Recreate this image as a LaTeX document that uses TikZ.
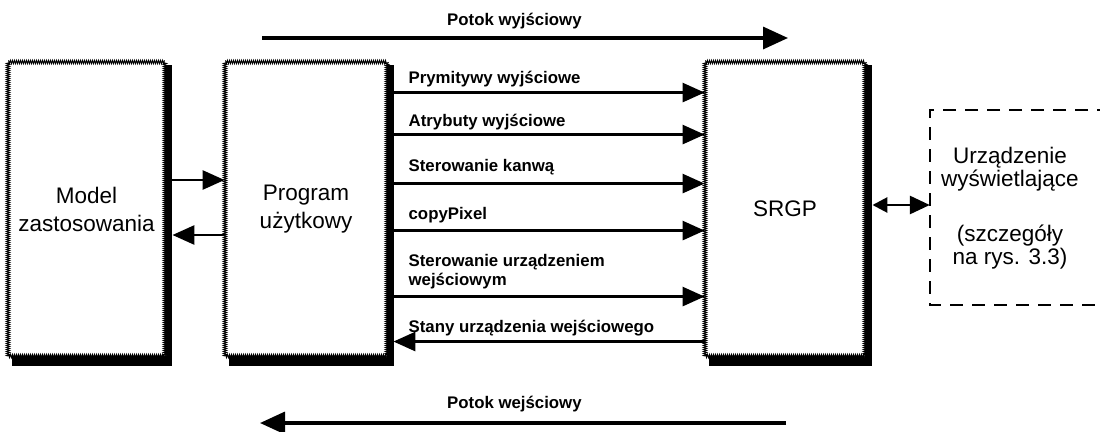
\documentclass[tikz,border=0pt]{standalone}
\usepackage{fontspec}
\setmainfont{Liberation Sans}
\usetikzlibrary{arrows.meta,decorations.pathmorphing,calc,backgrounds}

\begin{document}
\begin{tikzpicture}[x=1pt,y=-1pt,
  block/.style={draw=black, line width=0.9pt, fill=white, inner sep=0pt,
    minimum height=294pt, align=center, font=\fontsize{22.5}{28}\selectfont,
    decorate, decoration={zigzag, segment length=2pt, amplitude=1.6pt}},
  lab/.style={font=\bfseries\fontsize{16.8}{19}\selectfont, inner sep=0pt,
    anchor=west, align=left},
  link/.style={line width=2.8pt, -{Triangle[length=22pt,width=19pt]}},
  flow/.style={line width=3.4pt, -{Triangle[length=25pt,width=22pt]}},
  devtext/.style={align=center, inner sep=0pt, font=\fontsize{22.5}{23}\selectfont},
  devbox/.style={inner sep=0pt, minimum width=180pt, minimum height=195pt},
  devedge/.style={line width=1.8pt, dash pattern=on 13pt off 9pt}
]
\clip (0,0) rectangle (1100,431);

% the three processing blocks
\node[block, minimum width=157pt] (model) at (86.5,209) {Model\\zastosowania};
\node[block, minimum width=162pt] (prog)  at (306,209)  {Program\\użytkowy};
\node[block, minimum width=160pt] (srgp)  at (785,209)  {SRGP};

% paper and the heavy shadow on the right and bottom of each block
\begin{scope}[on background layer]
  \fill[white] (0,0) rectangle (1100,431);
  \foreach \b in {model,prog,srgp} {
    \fill[black] ($(\b.north east)+(0,3)$) rectangle ($(\b.south east)+(7,10)$);
    \fill[black] ($(\b.south west)+(4,0)$) rectangle ($(\b.south east)+(7,10)$);
  }
\end{scope}

% display device (open dashed frame)
\node[devbox] (dev) at (1020,207.5) {};
\draw[devedge] (dev.north east) -- (dev.north west) -- (dev.south west) -- (dev.south east);
\node[devtext] (devlabel) at (1010,208)
  {Urządzenie\\wyświetlające\\[32pt](szczegóły\\na rys. 3.3)};

% application model <-> application program
\draw[link] ($(model.east)+(7,-29)$) -- ($(prog.west)+(0,-29)$);
\draw[link] ($(prog.west)+(0,26)$) -- ($(model.east)+(7,26)$);

% calls from the program into SRGP
\foreach \dy in {31,73,122,169,235}
  \draw[link] ($(prog.north east)+(6,\dy)$) -- ($(srgp.north west)+(0,\dy)$);
\draw[link] ($(srgp.north west)+(0,280)$) -- ($(prog.north east)+(6,280)$);

\node[lab] (l1) at ($(prog.north east)+(21,18)$)  {Prymitywy wyjściowe};
\node[lab] (l2) at ($(prog.north east)+(21,61)$)  {Atrybuty wyjściowe};
\node[lab] (l3) at ($(prog.north east)+(21,106)$) {Sterowanie kanwą};
\node[lab] (l4) at ($(prog.north east)+(21,154)$) {copyPixel};
\node[lab] (l5) at ($(prog.north east)+(21,210)$) {Sterowanie urządzeniem\\wejściowym};
\node[lab] (l6) at ($(prog.north east)+(21,267)$) {Stany urządzenia wejściowego};

% SRGP <-> display device
\draw[line width=2.8pt, {Triangle[length=15pt,width=15pt]}-{Triangle[length=20pt,width=18pt]}]
  ($(srgp.east)+(7,-4)$) -- ($(dev.west)+(0,-2.5)$);

% output and input pipelines
\coordinate (outS) at (262,38);
\coordinate (outE) at (788,38);
\draw[flow] (outS) -- (outE);
\node[lab] (outL) at (447,21) {Potok wyjściowy};

\coordinate (inS) at (786,423);
\coordinate (inE) at (260,423);
\draw[flow] (inS) -- (inE);
\node[lab] (inL) at (447,404) {Potok wejściowy};
\end{tikzpicture}
\end{document}
